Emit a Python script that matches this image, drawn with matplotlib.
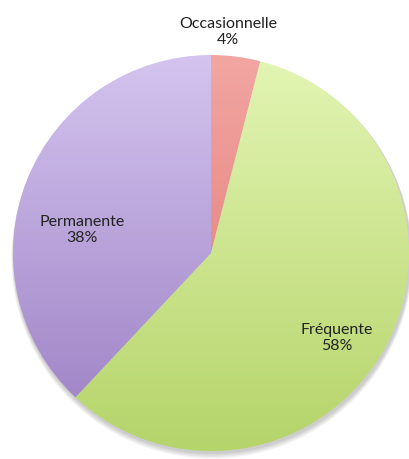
import numpy as np
import matplotlib.pyplot as plt
from matplotlib.colors import LinearSegmentedColormap

# Données du camembert
categories = ['Occasionnelle', 'Fréquente', 'Permanente']
parts = [4, 58, 38]

# couleurs haut / bas du dégradé pour chaque part
top_colors = ['#f2a6a2', '#e3f5b4', '#d4c4ef']
bottom_colors = ['#e0706c', '#b5d46a', '#9a7ec2']

plt.rcParams['font.family'] = ['Lato', 'DejaVu Sans']

fig = plt.figure(figsize=(4.09, 4.60), dpi=100)
ax = fig.add_axes([0, 0, 1, 1])
ax.set_xlim(0, 409)
ax.set_ylim(0, 460)
ax.axis('off')

cx, cy, r = 211, 206, 198

# petite ombre sous le camembert
for i, a in enumerate([0.05, 0.05, 0.05, 0.05]):
    ax.add_patch(plt.Circle((cx + 1, cy - 2 - i), r + 1 + i * 0.5, color='black', alpha=a, lw=0, zorder=0))

wedges, _ = ax.pie(parts, startangle=90, counterclock=False, center=(cx, cy), radius=r,
                   wedgeprops=dict(linewidth=0))
ax.set_xlim(0, 409)
ax.set_ylim(0, 460)
ax.set_aspect('equal')

grad = np.linspace(0, 1, 256).reshape(-1, 1)
for w, c0, c1 in zip(wedges, top_colors, bottom_colors):
    w.set_facecolor('none')
    cmap = LinearSegmentedColormap.from_list('g', [c0, c1])
    im = ax.imshow(grad, cmap=cmap, aspect='auto', extent=(cx - r, cx + r, cy - r, cy + r),
                   origin='upper', zorder=1, interpolation='bilinear')
    im.set_clip_path(w)

ax.set_xlim(0, 409)
ax.set_ylim(0, 460)

labels_pos = [(228, 460 - 32), (337, 460 - 338), (82, 460 - 230)]
for cat, p, (x, y) in zip(categories, parts, labels_pos):
    ax.text(x, y, f'{cat}\n{p}%', ha='center', va='center', fontsize=11.5,
            color='#222222', linespacing=1.15, zorder=3)

fig.savefig('out.png', dpi=100)
